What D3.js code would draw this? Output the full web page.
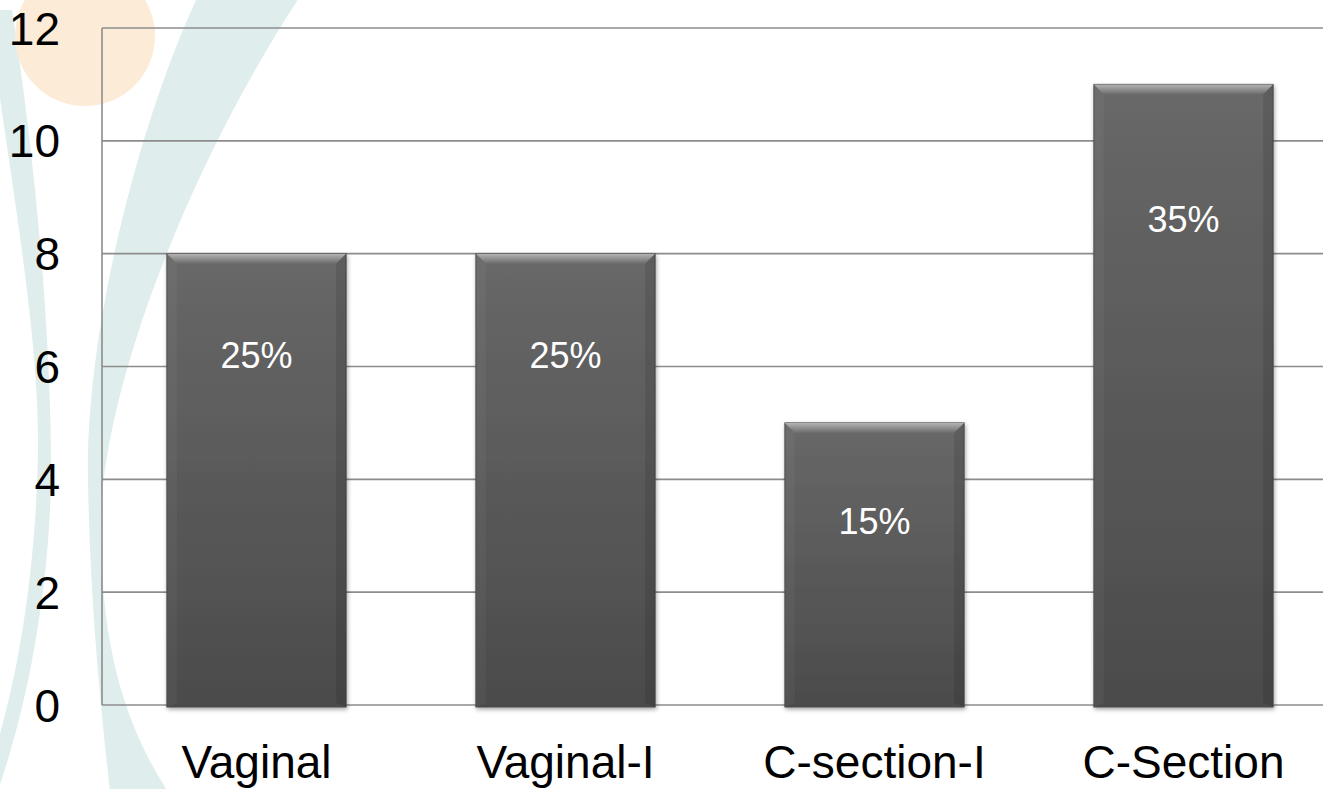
<!DOCTYPE html>
<html>
<head>
<meta charset="utf-8">
<script src="https://cdn.jsdelivr.net/npm/d3@7"></script>
<style>
  body { margin: 0; background: #fff; }
  svg text { font-family: Arial, "Liberation Sans", sans-serif; }
</style>
</head>
<body>
<div id="chart"></div>
<script>
// chart data
var categories = ["Vaginal", "Vaginal-I", "C-section-I", "C-Section"];
var counts = [8, 8, 5, 11];
var shares = ["25%", "25%", "15%", "35%"];
var yTicks = [0, 2, 4, 6, 8, 10, 12];

// how far below the bar top each label baseline sits (px)
var labelDrop = [114, 114, 111, 148];

var W = 1323, H = 789;
var margin = {top: 28, right: -15, bottom: 84, left: 102};

var svg = d3.select("#chart").append("svg")
  .attr("width", W).attr("height", H);

var defs = svg.append("defs");
var g1 = defs.append("linearGradient").attr("id", "barFill")
  .attr("x1", 0).attr("y1", 0).attr("x2", 0).attr("y2", 1);
g1.append("stop").attr("offset", "0%").attr("stop-color", "#686868");
g1.append("stop").attr("offset", "100%").attr("stop-color", "#4b4b4b");
var g2 = defs.append("linearGradient").attr("id", "bevelTop")
  .attr("x1", 0).attr("y1", 0).attr("x2", 0).attr("y2", 1);
g2.append("stop").attr("offset", "0%").attr("stop-color", "#b4b4b4");
g2.append("stop").attr("offset", "100%").attr("stop-color", "#6c6c6c");
var f = defs.append("filter").attr("id", "shadow")
  .attr("x", "-10%").attr("y", "-10%").attr("width", "120%").attr("height", "120%");
f.append("feDropShadow").attr("dx", 1).attr("dy", 2).attr("stdDeviation", 2)
  .attr("flood-color", "#000").attr("flood-opacity", 0.35);

// background decoration (swooshes + circle)
var bg = svg.append("g");
bg.append("path")
  .attr("d", "M197,-2 C140,120 85,330 88,480 C90,600 100,700 110,792 L168,792 " +
             "C122,720 100,640 101,520 C102,400 180,180 299,-2 Z")
  .attr("fill", "#dfeeed");
bg.append("path")
  .attr("d", "M-12,10 C5,150 40,330 38,450 C36,580 15,690 -8,760 L-2,790 " +
             "C30,700 53,570 51,450 C49,300 32,140 12,10 Z")
  .attr("fill", "#dfeeed");
bg.append("circle").attr("cx", 85).attr("cy", 36).attr("r", 70).attr("fill", "#fcebd6");

var x = d3.scaleBand()
  .domain(categories)
  .range([margin.left, W - margin.right])
  .paddingInner(0.42)
  .paddingOuter(0.21);

var y = d3.scaleLinear()
  .domain([0, 12])
  .range([H - margin.bottom, margin.top]);

// grid lines
svg.append("g")
  .selectAll("line")
  .data(yTicks)
  .join("line")
  .attr("x1", margin.left).attr("x2", W)
  .attr("y1", d => y(d)).attr("y2", d => y(d))
  .attr("stroke", "#8c8c8c")
  .attr("stroke-width", 1.6);

svg.append("line")
  .attr("x1", margin.left).attr("x2", margin.left)
  .attr("y1", y(12)).attr("y2", y(0))
  .attr("stroke", "#8c8c8c")
  .attr("stroke-width", 1.6);

// y axis
var yAxis = svg.append("g")
  .attr("transform", "translate(" + (margin.left - 42) + ",0)")
  .call(d3.axisLeft(y).tickValues(yTicks).tickSize(0).tickPadding(0));
yAxis.select(".domain").remove();
yAxis.selectAll("text")
  .attr("fill", "#000")
  .style("font-size", "46px")
  .attr("dy", "0.35em");

// x axis
var xAxis = svg.append("g")
  .attr("transform", "translate(0," + y(0) + ")")
  .call(d3.axisBottom(x).tickSize(0).tickPadding(0));
xAxis.select(".domain").remove();
xAxis.selectAll("text")
  .attr("fill", "#000")
  .style("font-size", "46px")
  .attr("dy", 0)
  .attr("y", 73);

// bars
var bars = svg.append("g")
  .selectAll("g")
  .data(categories)
  .join("g");

bars.append("rect")
  .attr("x", d => x(d))
  .attr("y", (d, i) => y(counts[i]))
  .attr("width", x.bandwidth())
  .attr("height", (d, i) => y(0) - y(counts[i]) + 2)
  .attr("fill", "url(#barFill)")
  .attr("stroke", "#4a4a4a")
  .attr("stroke-width", 1)
  .attr("filter", "url(#shadow)");

var bev = 10;
bars.append("path")
  .attr("d", function(d, i) {
    var x0 = x(d), x1 = x(d) + x.bandwidth(), t = y(counts[i]);
    return "M" + x0 + "," + t + "L" + x1 + "," + t + "L" + (x1 - bev) + "," + (t + bev) +
           "L" + (x0 + bev) + "," + (t + bev) + "Z";
  })
  .attr("fill", "url(#bevelTop)");

bars.append("path")
  .attr("d", function(d, i) {
    var x0 = x(d), t = y(counts[i]), b = y(0) + 2;
    return "M" + x0 + "," + t + "L" + (x0 + bev) + "," + (t + bev) + "L" + (x0 + bev) + "," + (b - 4) +
           "L" + x0 + "," + b + "Z";
  })
  .attr("fill", "#ffffff").attr("opacity", 0.04);

bars.append("path")
  .attr("d", function(d, i) {
    var x1 = x(d) + x.bandwidth(), t = y(counts[i]), b = y(0) + 2;
    return "M" + x1 + "," + t + "L" + (x1 - bev) + "," + (t + bev) + "L" + (x1 - bev) + "," + (b - 4) +
           "L" + x1 + "," + b + "Z";
  })
  .attr("fill", "#000").attr("opacity", 0.1);

bars.append("text")
  .attr("x", d => x(d) + x.bandwidth() / 2)
  .attr("y", (d, i) => y(counts[i]) + labelDrop[i])
  .attr("text-anchor", "middle")
  .attr("fill", "#fff")
  .style("font-size", "36px")
  .text((d, i) => shares[i]);
</script>
</body>
</html>
